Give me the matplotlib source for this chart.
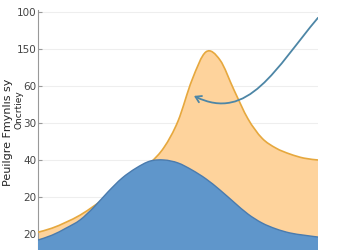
import matplotlib
matplotlib.use("Agg")
import matplotlib.pyplot as plt
import numpy as np
from matplotlib.path import Path
from matplotlib.patches import PathPatch, FancyArrowPatch

# y ticks are evenly spaced; the labels are as printed on the chart
tick_labels = ["20", "20", "40", "30", "60", "150", "100"]

x = np.arange(0, 10.5, 0.5)
orange = [0.05, 0.16, 0.32, 0.51, 0.76, 1.03, 1.35, 1.66, 1.92, 2.34, 3.05,
          4.16, 4.92, 4.70, 3.89, 3.11, 2.59, 2.32, 2.16, 2.05, 2.0]
blue = [-0.16, -0.03, 0.16, 0.38, 0.73, 1.14, 1.51, 1.78, 1.97, 2.0, 1.92,
        1.73, 1.49, 1.19, 0.86, 0.54, 0.30, 0.14, 0.03, -0.03, -0.08]

# arrow: start, two bezier handles, tip (data units)
arrow_pts = [(10.0, 5.84), (8.5, 4.5), (7.52, 3.0), (5.57, 3.73)]


def smooth_verts(xs, ys):
    # catmull-rom -> cubic bezier control points, drawn by Path
    p = np.column_stack([xs, ys]).astype(float)
    p = np.vstack([p[0], p, p[-1]])
    verts = [p[1]]
    for i in range(1, len(p) - 2):
        c1 = p[i] + (p[i + 1] - p[i - 1]) / 6
        c2 = p[i + 1] - (p[i + 2] - p[i]) / 6
        verts += [c1, c2, p[i + 1]]
    return verts


def area(ax, xs, ys, face, edge, lw, z):
    top = smooth_verts(xs, ys)
    codes = [Path.MOVETO] + [Path.CURVE4] * (len(top) - 1)
    fill = top + [(xs[-1], -1), (xs[0], -1), top[0]]
    fcodes = codes + [Path.LINETO, Path.LINETO, Path.CLOSEPOLY]
    ax.add_patch(PathPatch(Path(fill, fcodes), facecolor=face, lw=0, zorder=z))
    ax.add_patch(PathPatch(Path(top, codes), facecolor="none", edgecolor=edge,
                           lw=lw, zorder=z + 1))


fig = plt.figure(figsize=(3.5, 2.5), dpi=100)
ax = fig.add_axes([38 / 350, 0, 280 / 350, 240 / 250])

area(ax, x, orange, "#fed39c", "#e6a83e", 1.2, 2)
area(ax, x, blue, "#5f96cb", "#4a7bae", 1.0, 4)

arrow_path = Path(arrow_pts, [Path.MOVETO, Path.CURVE4, Path.CURVE4, Path.CURVE4])
ax.add_patch(FancyArrowPatch(path=arrow_path, arrowstyle="->,head_length=4,head_width=2.5",
                             color="#4d86a6", lw=1.3, zorder=6))

ax.set_xlim(0, 10)
ax.set_ylim(-0.43, 6.05)
ax.set_yticks(range(len(tick_labels)))
ax.set_yticklabels(tick_labels)
ax.set_xticks([])
ax.grid(axis="y", color="#eeeeee", lw=0.8, zorder=0)
for s in ["top", "right", "bottom"]:
    ax.spines[s].set_visible(False)
ax.spines["left"].set_color("#999999")
ax.tick_params(axis="y", labelsize=7.5, labelcolor="#444444", color="#999999",
               direction="in", length=3, width=0.8, pad=1)

fig.text(8 / 350, 1 - 132 / 250, "Peuilgre Fmynlıs sy", rotation=90,
         ha="center", va="center", fontsize=8, color="#222222")
fig.text(19 / 350, 1 - 110 / 250, "Oncrtiey", rotation=90,
         ha="center", va="center", fontsize=6.5, color="#222222")

fig.savefig("out.png", dpi=100)
